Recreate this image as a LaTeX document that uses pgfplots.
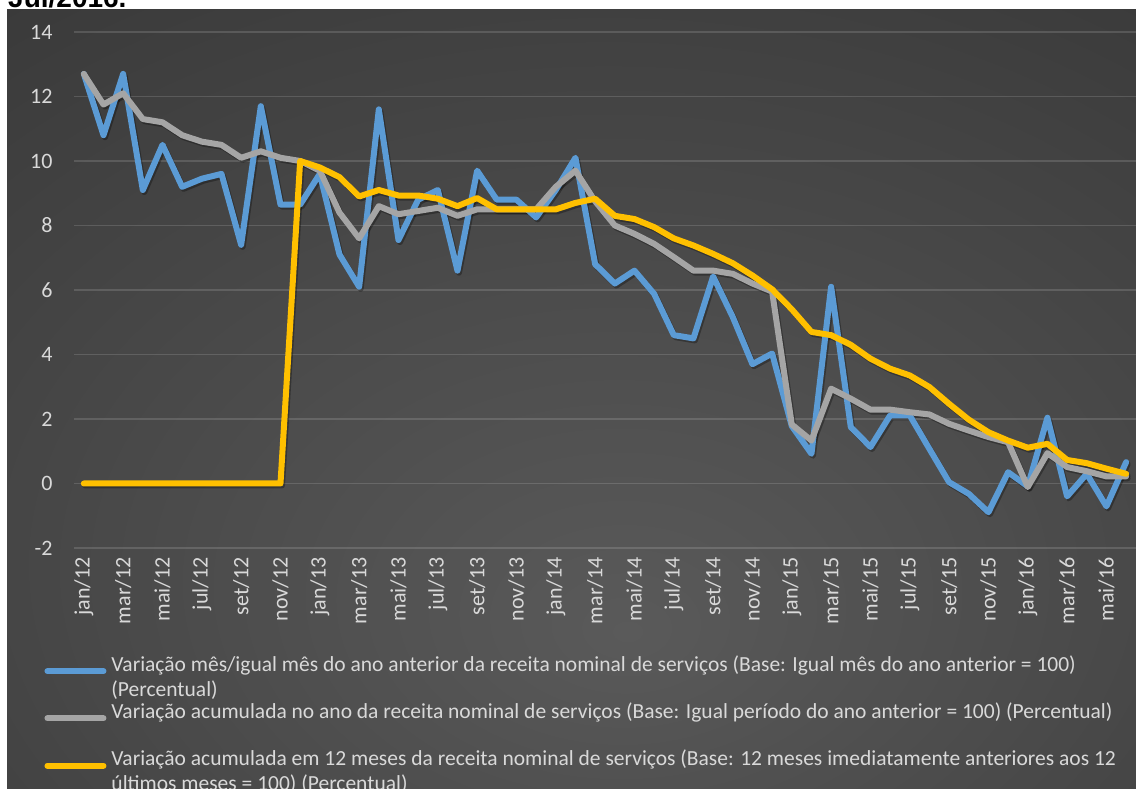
\documentclass[border=0pt]{standalone}
\usepackage{pgfplots}
\pgfplotsset{compat=1.18}
\usepackage{pgfplotstable}
\usepackage{fontspec}
\setmainfont{Carlito}
\newfontfamily\titlefont{Liberation Sans}

\definecolor{serblue}{HTML}{5B9BD5}
\definecolor{sergray}{HTML}{A5A5A5}
\definecolor{seryellow}{HTML}{FFC000}
\definecolor{txtgray}{HTML}{D9D9D9}
\definecolor{bgcenter}{HTML}{5A5A5A}
\definecolor{bgmid}{HTML}{383838}
\definecolor{bgedge}{HTML}{222222}

\pgfdeclareradialshading{chartbg}{\pgfpoint{2.5bp}{-15bp}}{%
  color(0bp)=(bgcenter); color(45bp)=(bgmid); color(88bp)=(bgedge)}

% m  = variacao mes/igual mes do ano anterior
% ac = variacao acumulada no ano
% dz = variacao acumulada em 12 meses
\pgfplotstableread{
x  m      ac     dz
0  12.70  12.70  0
1  10.80  11.75  0
2  12.70  12.10  0
3  9.10   11.30  0
4  10.50  11.20  0
5  9.20   10.80  0
6  9.45   10.60  0
7  9.60   10.50  0
8  7.40   10.10  0
9  11.70  10.30  0
10 8.65   10.10  0
11 8.65   10.00  10.00
12 9.60   9.70   9.80
13 7.10   8.40   9.50
14 6.10   7.60   8.90
15 11.60  8.60   9.10
16 7.55   8.35   8.93
17 8.80   8.45   8.93
18 9.10   8.55   8.83
19 6.60   8.30   8.60
20 9.70   8.50   8.85
21 8.80   8.50   8.50
22 8.80   8.50   8.50
23 8.25   8.50   8.50
24 9.10   9.20   8.50
25 10.10  9.70   8.70
26 6.80   8.75   8.83
27 6.20   8.00   8.30
28 6.60   7.74   8.20
29 5.88   7.43   7.95
30 4.60   7.02   7.60
31 4.50   6.60   7.38
32 6.42   6.60   7.12
33 5.16   6.50   6.83
34 3.70   6.20   6.45
35 4.03   5.95   6.02
36 1.78   1.83   5.40
37 0.92   1.33   4.70
38 6.10   2.94   4.60
39 1.75   2.63   4.30
40 1.13   2.29   3.87
41 2.11   2.29   3.56
42 2.11   2.21   3.35
43 1.07   2.14   2.99
44 0.04   1.85   2.47
45 -0.32  1.64   1.98
46 -0.89  1.44   1.59
47 0.35   1.28   1.33
48 -0.09  -0.11  1.11
49 2.04   0.94   1.23
50 -0.40  0.51   0.73
51 0.30   0.38   0.63
52 -0.71  0.22   0.46
53 0.66   0.22   0.30
}\servicos

% duas linhas por entrada
\newcommand{\legtwo}[2]{\vtop{\baselineskip=25pt
  \hbox{\kern3pt #1}\hbox{\kern3pt #2}}}

\begin{document}
\begin{tikzpicture}
\useasboundingbox (0pt,0pt) rectangle (1136pt,789pt);
\fill[white] (0pt,0pt) rectangle (1136pt,789pt);
\node[anchor=base west, inner sep=0pt, text=black,
  font=\titlefont\bfseries\fontsize{28}{30}\selectfont] at (8pt,781pt) {Jul/2016.};
\shade[shading=chartbg] (7pt,0pt) rectangle (1136pt,779pt);

\begin{axis}[
    at={(74pt,241pt)}, anchor=south west,
    width=1062pt, height=516pt, scale only axis,
    xmin=-0.5, xmax=53.5,
    ymin=-2, ymax=14,
    ytick={-2,0,...,14},
    xtick={0,2,...,52},
    xticklabels={jan/12,mar/12,mai/12,jul/12,set/12,nov/12,
                 jan/13,mar/13,mai/13,jul/13,set/13,nov/13,
                 jan/14,mar/14,mai/14,jul/14,set/14,nov/14,
                 jan/15,mar/15,mai/15,jul/15,set/15,nov/15,
                 jan/16,mar/16,mai/16},
    axis line style={draw=none},
    tick style={draw=none},
    ymajorgrids,
    major grid style={white, opacity=0.14, line width=1.3pt},
    /pgf/number format/assume math mode=true,
    tick label style={text=txtgray, font=\fontsize{22}{26}\selectfont},
    yticklabel style={xshift=-18pt},
    xticklabel style={yshift=-6pt, rotate=90, anchor=east},
    legend style={at={(-0.028,-0.204)}, anchor=north west,
        draw=none, fill=none, text=txtgray,
        font=\fontsize{21.5}{25}\selectfont,
        row sep=26pt, inner sep=0pt,
        cells={anchor=base west}},
    legend image code/.code={%
        \draw[#1, line cap=round] (0pt,0pt) -- (56pt,0pt);},
    every axis plot/.append style={line width=6pt, line join=round, line cap=round},
]

% sombra das linhas
\addplot[black, opacity=0.3, xshift=1.5pt, yshift=-2pt, forget plot] table[x=x, y=m]  {\servicos};
\addplot[black, opacity=0.3, xshift=1.5pt, yshift=-2pt, forget plot] table[x=x, y=ac] {\servicos};
\addplot[black, opacity=0.3, xshift=1.5pt, yshift=-2pt, forget plot] table[x=x, y=dz] {\servicos};

\addplot[serblue] table[x=x, y=m] {\servicos};
\addlegendentry{\legtwo{Variação mês/igual mês do ano anterior da receita nominal de serviços (Base: Igual mês do ano anterior = 100)}{(Percentual)}}

\addplot[sergray] table[x=x, y=ac] {\servicos};
\addlegendentry{\legtwo{Variação acumulada no ano da receita nominal de serviços (Base: Igual período do ano anterior = 100) (Percentual)}{}}

\addplot[seryellow] table[x=x, y=dz] {\servicos};
\addlegendentry{\legtwo{Variação acumulada em 12 meses da receita nominal de serviços (Base: 12 meses imediatamente anteriores aos 12}{últimos meses = 100) (Percentual)}}

\end{axis}
\end{tikzpicture}
\end{document}
